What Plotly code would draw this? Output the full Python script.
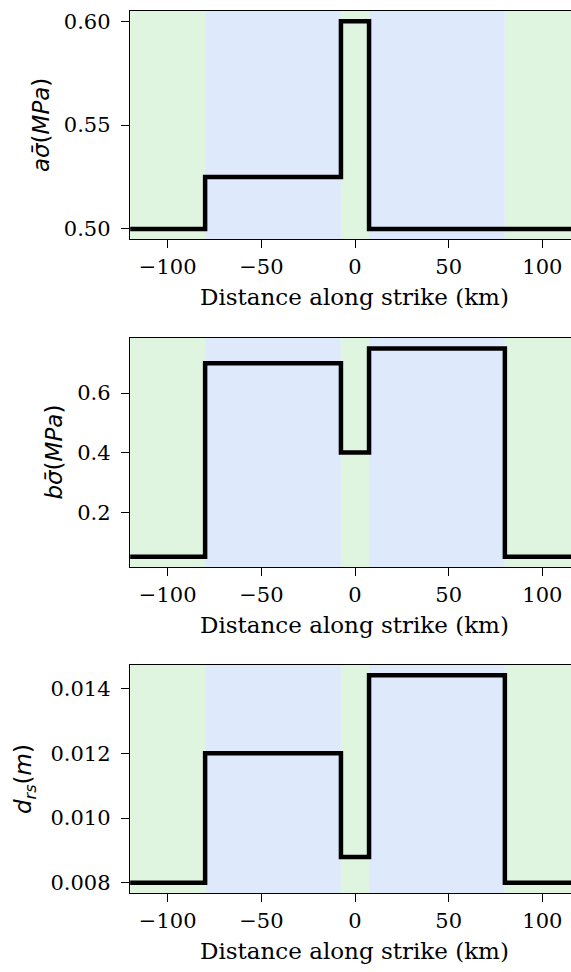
import plotly.graph_objects as go

# Along-strike segment boundaries (km) and the piecewise-constant properties
edges = [-120, -80, -7.5, 7.5, 80, 120]
a_sigma = [0.50, 0.525, 0.60, 0.50, 0.50]          # a*sigma_bar (MPa)
b_sigma = [0.05, 0.70, 0.40, 0.75, 0.05]           # b*sigma_bar (MPa)
d_rs = [0.008, 0.012, 0.0088, 0.0144, 0.008]       # d_rs (m)

# Shaded zones: velocity-strengthening (green) and weakening (blue)
zones = [(-120, -80, "#dff5df"), (-80, -7.5, "#dfe9fc"), (-7.5, 7.5, "#dff5df"),
         (7.5, 80, "#dfe9fc"), (80, 120, "#dff5df")]

x_ticks = [-100, -50, 0, 50, 100]
x_title = "Distance along strike (km)"

W, H = 571, 972
LEFT = 130
panels = [
    dict(vals=a_sigma, top=10, bot=239, yr=[0.495, 0.605], tv=[0.50, 0.55, 0.60], fmt=".2f",
         label="<i>aσ̄</i>(<i>MPa</i>)", lx=41),
    dict(vals=b_sigma, top=338, bot=568, yr=[0.015, 0.785], tv=[0.2, 0.4, 0.6], fmt=".1f",
         label="<i>bσ̄</i>(<i>MPa</i>)", lx=54),
    dict(vals=d_rs, top=666, bot=895, yr=[0.00768, 0.01472], tv=[0.008, 0.010, 0.012, 0.014],
         fmt=".3f", label="<i>d</i><sub><i>rs</i></sub>(<i>m</i>)", lx=25),
]

TICKFONT = dict(family="DejaVu Serif", size=21, color="black")
fig = go.Figure()
layout = dict(width=W, height=H, margin=dict(l=0, r=0, t=0, b=0),
              paper_bgcolor="white", plot_bgcolor="white", showlegend=False)
shapes, annotations = [], []

for i, p in enumerate(panels, start=1):
    xa = "x" if i == 1 else f"x{i}"
    ya = "y" if i == 1 else f"y{i}"
    fig.add_trace(go.Scatter(x=edges, y=p["vals"] + [p["vals"][-1]], mode="lines",
                             line=dict(color="black", width=4.5, shape="hv"),
                             xaxis=xa, yaxis=ya, hoverinfo="skip"))
    dom = [1 - p["bot"] / H, 1 - p["top"] / H]
    common = dict(showgrid=False, zeroline=False, showline=True, linecolor="black",
                  linewidth=1.4, ticks="outside", ticklen=8, tickwidth=1.4,
                  tickcolor="black", tickfont=TICKFONT)
    layout["xaxis" + ("" if i == 1 else str(i))] = dict(
        common, domain=[LEFT / W, 1], range=[-120.1, 115.3], tickvals=x_ticks,
        mirror=True, anchor=ya)
    layout["yaxis" + ("" if i == 1 else str(i))] = dict(
        common, domain=dom, range=p["yr"], tickvals=p["tv"], tickformat=p["fmt"],
        mirror=False, anchor=xa, ticklabelstandoff=6)
    for x0, x1, c in zones:
        shapes.append(dict(type="rect", xref=xa, yref=ya + " domain", x0=x0, x1=x1,
                           y0=0, y1=1, fillcolor=c, line_width=0, layer="below"))
    annotations.append(dict(text=p["label"], xref="paper", yref="paper",
                            x=p["lx"] / W, y=1 - (p["top"] + p["bot"]) / 2 / H,
                            xanchor="center", yanchor="middle", textangle=-90,
                            showarrow=False,
                            font=dict(family="DejaVu Sans", size=23, color="black")))
    annotations.append(dict(text=x_title, xref="paper", yref="paper",
                            x=354.5 / W, y=1 - (p["bot"] + 58) / H,
                            xanchor="center", yanchor="middle", showarrow=False,
                            font=dict(family="DejaVu Serif", size=23, color="black")))

layout["shapes"] = shapes
layout["annotations"] = annotations
fig.update_layout(**layout)
fig.write_html("out.html")
